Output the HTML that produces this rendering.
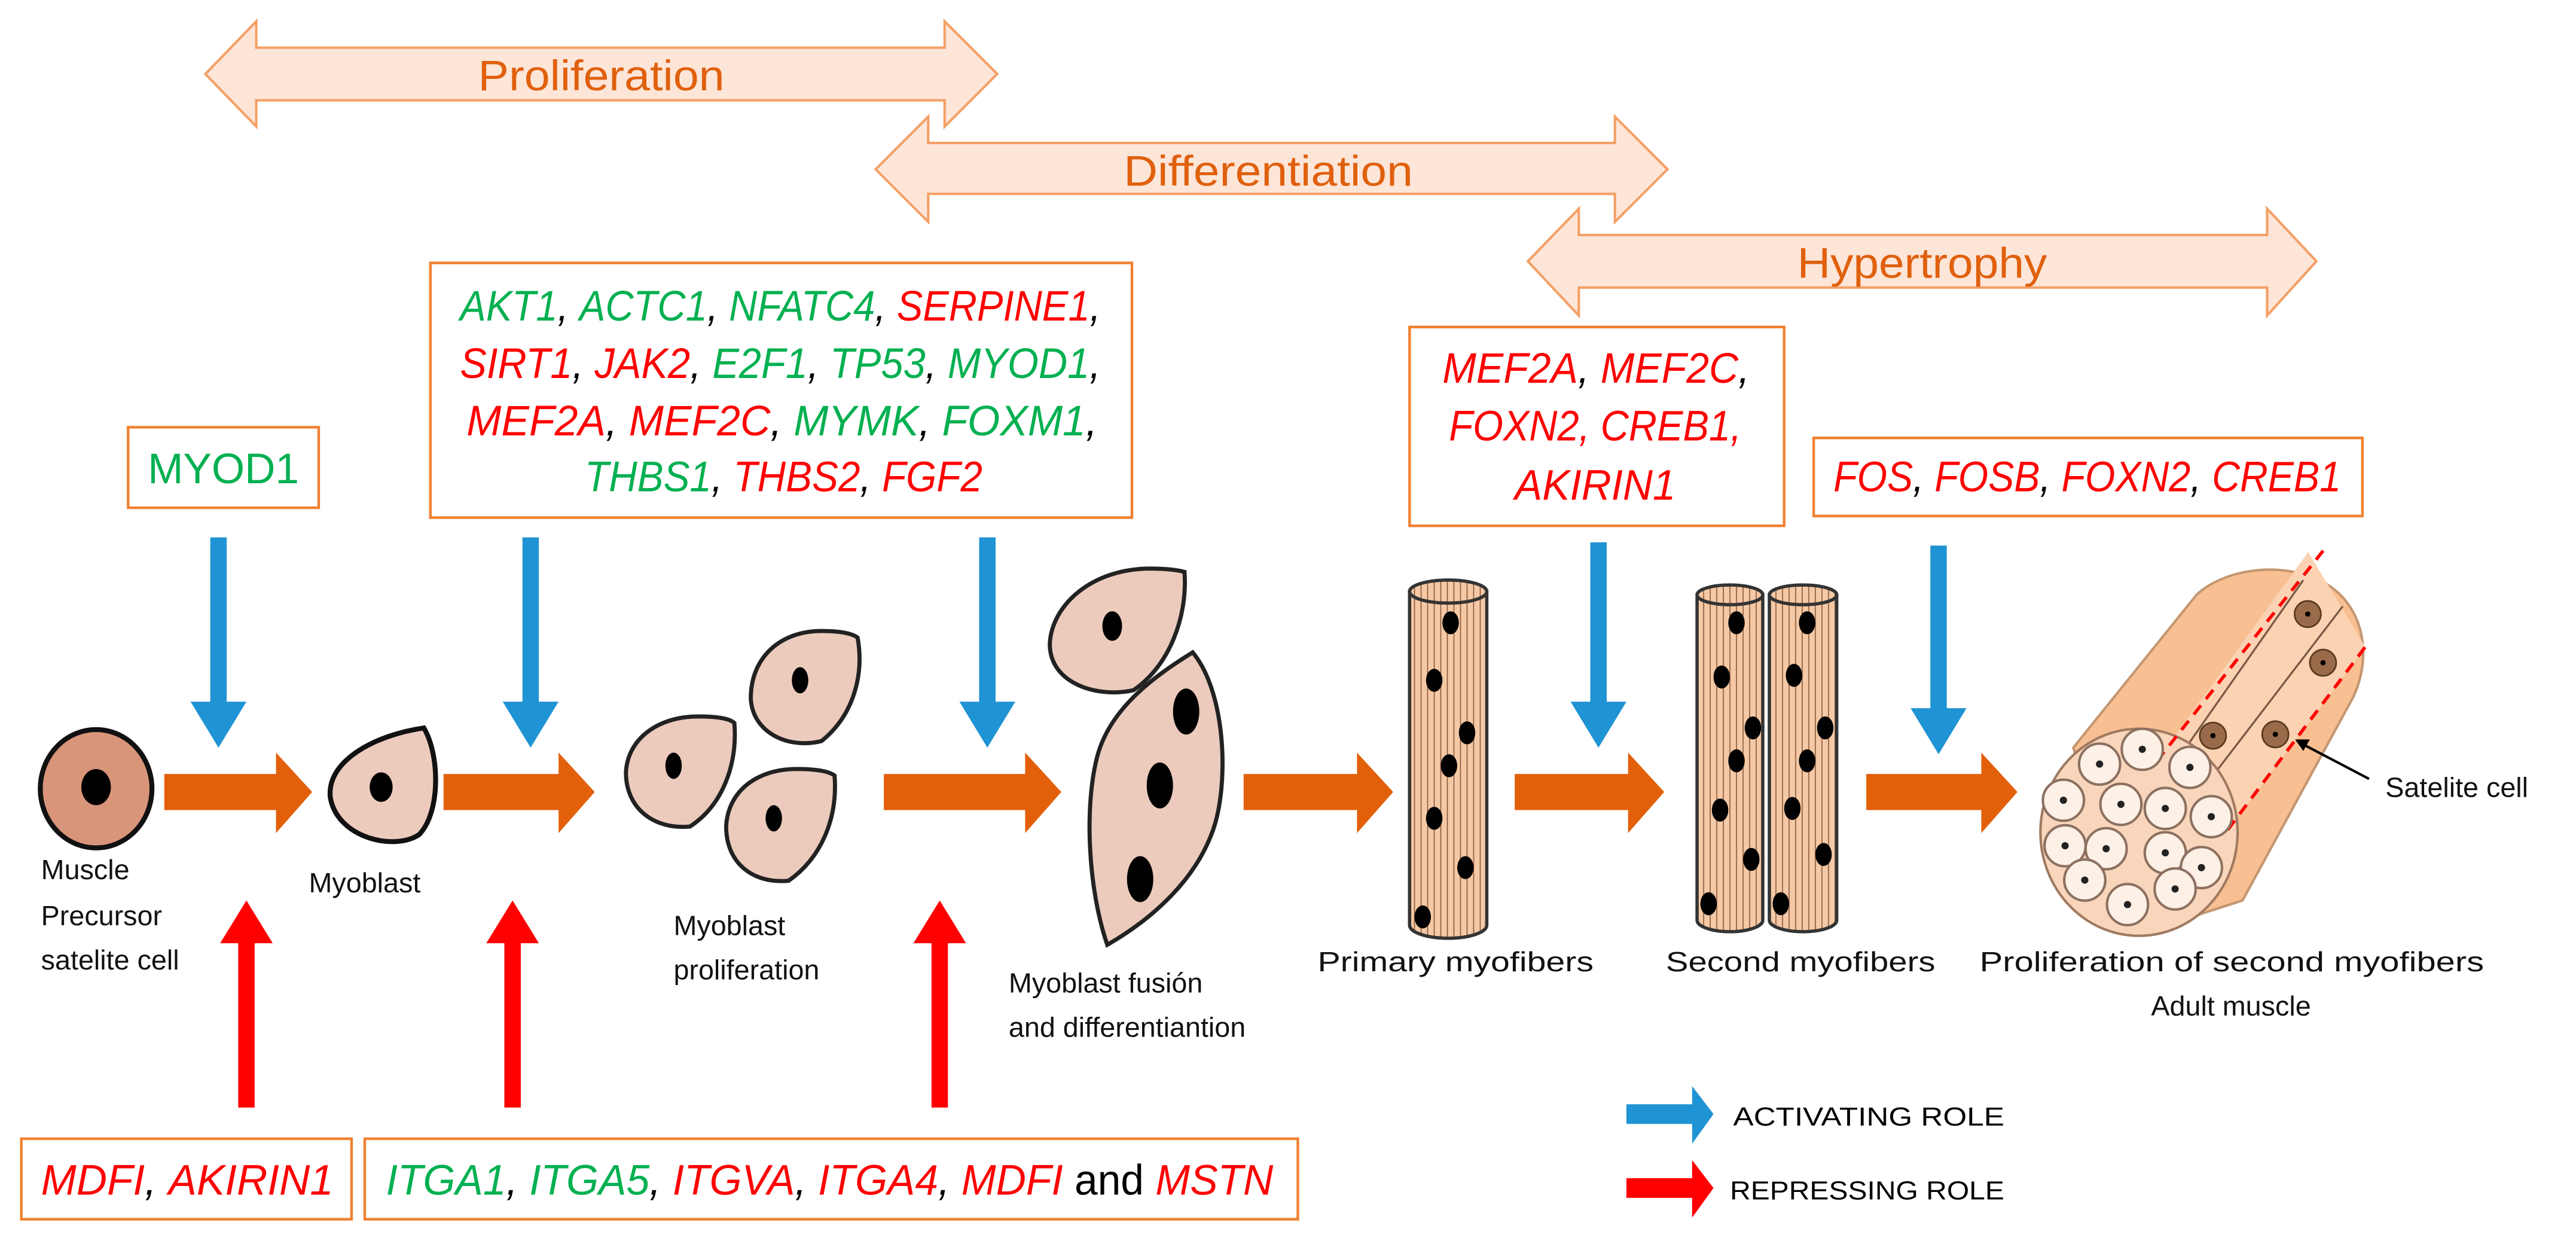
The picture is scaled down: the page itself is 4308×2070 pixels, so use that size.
<!DOCTYPE html>
<html><head><meta charset="utf-8"><style>
html,body{margin:0;padding:0;background:#fff;}
svg{display:block;}
text{font-family:"Liberation Sans",sans-serif;}
.g{fill:#00b050}.r{fill:#ff0000}.k{fill:#000}
.gene{font-style:italic;font-size:26px;}
.lab{font-size:17px;fill:#111;}
.ttl{font-size:26px;fill:#e0600c;}
</style></head><body>
<svg width="4308" height="2070" viewBox="0 0 1568 753.4" xmlns="http://www.w3.org/2000/svg">
<rect width="1568" height="753.4" fill="#fff"/>
<g fill="#fde5d8" stroke="#f4a066" stroke-width="1.5">
<path d="M125,45 L156,13 L156,29 L575,29 L575,13 L607,45 L575,77 L575,61 L156,61 L156,77 Z"/>
<path d="M533,103 L565,71 L565,87 L983,87 L983,71 L1015,103 L983,135 L983,118 L565,118 L565,135 Z"/>
<path d="M930,159 L961,127 L961,143 L1380,143 L1380,127 L1410,159 L1380,192 L1380,175 L961,175 L961,192 Z"/>
</g>
<text class="ttl" x="366" y="55" text-anchor="middle" textLength="150" lengthAdjust="spacingAndGlyphs">Proliferation</text>
<text class="ttl" x="772" y="113" text-anchor="middle" textLength="176" lengthAdjust="spacingAndGlyphs">Differentiation</text>
<text class="ttl" x="1170" y="169" text-anchor="middle" textLength="152" lengthAdjust="spacingAndGlyphs">Hypertrophy</text>
<g fill="#fff" stroke="#f08030" stroke-width="1.6">
<rect x="78" y="260" width="116" height="49"/>
<rect x="262" y="160" width="427" height="155"/>
<rect x="858" y="199" width="228" height="121"/>
<rect x="1104" y="266.5" width="334" height="47.5"/>
<rect x="13" y="693" width="201" height="49"/>
<rect x="222" y="693" width="568" height="49"/>
</g>
<text class="g" x="90" y="294" font-size="26" textLength="92" lengthAdjust="spacingAndGlyphs">MYOD1</text>
<text class="gene" x="280" y="195" textLength="390" lengthAdjust="spacingAndGlyphs"><tspan class="g">AKT1</tspan><tspan class="k">, </tspan><tspan class="g">ACTC1</tspan><tspan class="k">, </tspan><tspan class="g">NFATC4</tspan><tspan class="k">, </tspan><tspan class="r">SERPINE1</tspan><tspan class="k">,</tspan></text>
<text class="gene" x="280" y="230" textLength="390" lengthAdjust="spacingAndGlyphs"><tspan class="r">SIRT1</tspan><tspan class="k">, </tspan><tspan class="r">JAK2</tspan><tspan class="k">, </tspan><tspan class="g">E2F1</tspan><tspan class="k">, </tspan><tspan class="g">TP53</tspan><tspan class="k">, </tspan><tspan class="g">MYOD1</tspan><tspan class="k">,</tspan></text>
<text class="gene" x="284" y="265" textLength="384" lengthAdjust="spacingAndGlyphs"><tspan class="r">MEF2A</tspan><tspan class="k">, </tspan><tspan class="r">MEF2C</tspan><tspan class="k">, </tspan><tspan class="g">MYMK</tspan><tspan class="k">, </tspan><tspan class="g">FOXM1</tspan><tspan class="k">,</tspan></text>
<text class="gene" x="356" y="299" textLength="242" lengthAdjust="spacingAndGlyphs"><tspan class="g">THBS1</tspan><tspan class="k">, </tspan><tspan class="r">THBS2</tspan><tspan class="k">, </tspan><tspan class="r">FGF2</tspan></text>
<text class="gene" x="878" y="233" textLength="187" lengthAdjust="spacingAndGlyphs"><tspan class="r">MEF2A</tspan><tspan class="k">, </tspan><tspan class="r">MEF2C</tspan><tspan class="k">,</tspan></text>
<text class="gene r" x="882" y="268" textLength="178" lengthAdjust="spacingAndGlyphs">FOXN2, CREB1,</text>
<text class="gene r" x="922" y="304" textLength="98" lengthAdjust="spacingAndGlyphs">AKIRIN1</text>
<text class="gene" x="1116" y="299" textLength="309" lengthAdjust="spacingAndGlyphs"><tspan class="r">FOS</tspan><tspan class="k">, </tspan><tspan class="r">FOSB</tspan><tspan class="k">, </tspan><tspan class="r">FOXN2</tspan><tspan class="k">, </tspan><tspan class="r">CREB1</tspan></text>
<text class="gene" x="25" y="727" textLength="178" lengthAdjust="spacingAndGlyphs"><tspan class="r">MDFI</tspan><tspan class="k">, </tspan><tspan class="r">AKIRIN1</tspan></text>
<text class="gene" x="235" y="727" textLength="540" lengthAdjust="spacingAndGlyphs"><tspan class="g">ITGA1</tspan><tspan class="k">, </tspan><tspan class="g">ITGA5</tspan><tspan class="k">, </tspan><tspan class="r">ITGVA</tspan><tspan class="k">, </tspan><tspan class="r">ITGA4</tspan><tspan class="k">, </tspan><tspan class="r">MDFI</tspan><tspan class="k" font-style="normal"> and </tspan><tspan class="r">MSTN</tspan></text>
<g fill="#1f93d3">
<path d="M128,327 h10 v100 h12 l-17,28 l-17,-28 h12 z"/>
<path d="M318,327 h10 v100 h12 l-17,28 l-17,-28 h12 z"/>
<path d="M596,327 h10 v100 h12 l-17,28 l-17,-28 h12 z"/>
<path d="M968,330 h10 v97 h12 l-17,28 l-17,-28 h12 z"/>
<path d="M1175,332 h10 v99 h12 l-17,28 l-17,-28 h12 z"/>
</g>
<g fill="#ff0000">
<path d="M145,674 h10 v-100 h11 l-16,-26 l-16,26 h11 z"/>
<path d="M307,674 h10 v-100 h11 l-16,-26 l-16,26 h11 z"/>
<path d="M567,674 h10 v-100 h11 l-16,-26 l-16,26 h11 z"/>
</g>
<g fill="#e2600a">
<path d="M100,471 H168 V458 L190,482 L168,507 V493 H100 Z"/>
<path d="M270,471 H340 V458 L362,482 L340,507 V493 H270 Z"/>
<path d="M538,471 H624 V458 L646,482 L624,507 V493 H538 Z"/>
<path d="M757,471 H826 V458 L848,482 L826,507 V493 H757 Z"/>
<path d="M922,471 H991 V458 L1013,482 L991,507 V493 H922 Z"/>
<path d="M1136,471 H1206 V458 L1228,482 L1206,507 V493 H1136 Z"/>
</g>
<ellipse cx="58.5" cy="480" rx="34" ry="36" fill="#d9957a" stroke="#111" stroke-width="3"/>
<ellipse cx="58.5" cy="479" rx="9" ry="11" fill="#000"/>
<path d="M258,443 C268,460 268,495 255,508 C240,518 205,510 201,485 C199,462 230,447 258,443 Z" fill="#eccbbd" stroke="#111" stroke-width="3"/>
<ellipse cx="232" cy="479" rx="7" ry="9" fill="#000"/>
<g fill="#eccbbd" stroke="#222" stroke-width="2.5">
<path d="M522,388 C526,410 520,435 500,451 C480,456 458,446 457,425 C457,400 475,384 500,384 C510,384 518,385 522,388 Z"/>
<path d="M447,440 C449,465 440,490 420,503 C398,505 381,492 381,470 C382,450 400,436 425,436 C435,436 444,437 447,440 Z"/>
<path d="M508,472 C510,498 500,522 480,536 C458,538 442,525 442,503 C443,482 460,468 485,468 C495,468 504,469 508,472 Z"/>
<path d="M721,348 C723,375 712,405 690,420 C668,425 639,416 639,392 C640,368 665,346 700,346 C710,346 717,347 721,348 Z"/>
<path d="M726,397 C745,420 748,470 740,500 C730,535 700,560 674,575 C662,540 660,490 668,460 C676,430 705,410 726,397 Z"/>
</g>
<g fill="#000">
<ellipse cx="487" cy="414" rx="5" ry="8"/><ellipse cx="410" cy="466" rx="5" ry="8"/><ellipse cx="471" cy="498" rx="5" ry="8"/>
<ellipse cx="677" cy="381" rx="6" ry="9"/><ellipse cx="722" cy="433" rx="8" ry="14"/><ellipse cx="706" cy="478" rx="8" ry="14"/><ellipse cx="694" cy="535" rx="8" ry="14"/>
</g>
<defs>
<pattern id="st" width="4" height="10" patternUnits="userSpaceOnUse"><rect width="4" height="10" fill="#f5c9a5"/><line x1="1" y1="0" x2="1" y2="10" stroke="#8a5a3c" stroke-width="0.6"/></pattern>
</defs>
<g stroke="#333" stroke-width="2" fill="url(#st)">
<path d="M858,360 V563 A23.5,8 0 0 0 905,563 V360 Z"/>
<ellipse cx="881.5" cy="360" rx="23.5" ry="7"/>
<path d="M1033,362 V560 A20,7 0 0 0 1073,560 V362 Z"/>
<ellipse cx="1053" cy="362" rx="20" ry="6"/>
<path d="M1077,362 V560 A20.5,7 0 0 0 1118,560 V362 Z"/>
<ellipse cx="1097.5" cy="362" rx="20.5" ry="6"/>
</g>
<g fill="#000">
<ellipse cx="883" cy="379" rx="5" ry="7"/><ellipse cx="873" cy="414" rx="5" ry="7"/><ellipse cx="893" cy="446" rx="5" ry="7"/><ellipse cx="882" cy="466" rx="5" ry="7"/><ellipse cx="873" cy="498" rx="5" ry="7"/><ellipse cx="892" cy="528" rx="5" ry="7"/><ellipse cx="866" cy="558" rx="5" ry="7"/>
<ellipse cx="1057" cy="379" rx="5" ry="7"/><ellipse cx="1048" cy="412" rx="5" ry="7"/><ellipse cx="1067" cy="443" rx="5" ry="7"/><ellipse cx="1057" cy="463" rx="5" ry="7"/><ellipse cx="1047" cy="493" rx="5" ry="7"/><ellipse cx="1066" cy="523" rx="5" ry="7"/><ellipse cx="1040" cy="550" rx="5" ry="7"/>
<ellipse cx="1100" cy="379" rx="5" ry="7"/><ellipse cx="1092" cy="411" rx="5" ry="7"/><ellipse cx="1111" cy="443" rx="5" ry="7"/><ellipse cx="1100" cy="463" rx="5" ry="7"/><ellipse cx="1091" cy="492" rx="5" ry="7"/><ellipse cx="1110" cy="520" rx="5" ry="7"/><ellipse cx="1084" cy="550" rx="5" ry="7"/>
</g>
<!-- adult muscle -->
<path d="M1262,455 L1337,362 C1355,345 1395,340 1420,358 C1442,375 1442,405 1432,425 L1365,548 L1300,569 Z" fill="#f7bf92" stroke="#c49670" stroke-width="1.5"/>
<path d="M1313,463 L1405,336 L1440,394 L1356,505 Z" fill="#fbd3b3"/>
<path d="M1327,460 L1402,353 M1344,476 L1426,369" stroke="#7a5a45" stroke-width="1.2" fill="none"/>
<ellipse cx="1302" cy="506.5" rx="60" ry="63" fill="#f9d6bb" stroke="#a07a60" stroke-width="1.5"/>
<g fill="#9a6b4a" stroke="#5a3a20" stroke-width="1">
<circle cx="1404.7" cy="373.7" r="8"/><circle cx="1414" cy="403.3" r="8"/><circle cx="1347" cy="447.7" r="8"/><circle cx="1385" cy="446.9" r="8"/>
</g>
<g fill="#000"><circle cx="1404.7" cy="373.7" r="1.6"/><circle cx="1414" cy="403.3" r="1.6"/><circle cx="1347" cy="447.7" r="1.6"/><circle cx="1385" cy="446.9" r="1.6"/></g>
<g stroke="#ff0000" stroke-width="2" stroke-dasharray="7,5" fill="none">
<line x1="1313" y1="463" x2="1415" y2="334"/>
<line x1="1356" y1="505" x2="1441" y2="392"/>
</g>
<g fill="#fdf0e6" stroke="#8c7060" stroke-width="1.5">
<circle cx="1278" cy="465" r="12.5"/><circle cx="1304" cy="456" r="12.5"/><circle cx="1333" cy="467" r="12.5"/><circle cx="1256" cy="487" r="12.5"/><circle cx="1291" cy="489.5" r="12.5"/><circle cx="1318" cy="492" r="12.5"/><circle cx="1346" cy="497" r="12.5"/><circle cx="1257" cy="514.7" r="12.5"/><circle cx="1282" cy="516.5" r="12.5"/><circle cx="1318" cy="519" r="12.5"/><circle cx="1340" cy="528" r="12.5"/><circle cx="1269" cy="535.6" r="12.5"/><circle cx="1295" cy="550.5" r="12.5"/><circle cx="1324" cy="541" r="12.5"/>
</g>
<g fill="#222">
<circle cx="1278" cy="465" r="2.2"/><circle cx="1304" cy="456" r="2.2"/><circle cx="1333" cy="467" r="2.2"/><circle cx="1256" cy="487" r="2.2"/><circle cx="1291" cy="489.5" r="2.2"/><circle cx="1318" cy="492" r="2.2"/><circle cx="1346" cy="497" r="2.2"/><circle cx="1257" cy="514.7" r="2.2"/><circle cx="1282" cy="516.5" r="2.2"/><circle cx="1318" cy="519" r="2.2"/><circle cx="1340" cy="528" r="2.2"/><circle cx="1269" cy="535.6" r="2.2"/><circle cx="1295" cy="550.5" r="2.2"/><circle cx="1324" cy="541" r="2.2"/>
</g>
<line x1="1400" y1="452" x2="1442" y2="474" stroke="#000" stroke-width="1.5"/>
<path d="M1397,450 l9,0 l-4,7 z" fill="#000"/>
<text class="lab" x="1452" y="485">Satelite cell</text>
<text class="lab" x="25" y="535">Muscle</text>
<text class="lab" x="25" y="563">Precursor</text>
<text class="lab" x="25" y="590">satelite cell</text>
<text class="lab" x="188" y="543">Myoblast</text>
<text class="lab" x="410" y="569">Myoblast</text>
<text class="lab" x="410" y="596">proliferation</text>
<text class="lab" x="614" y="604">Myoblast fusión</text>
<text class="lab" x="614" y="631">and differentiantion</text>
<text class="lab" x="802" y="591" textLength="168" lengthAdjust="spacingAndGlyphs">Primary myofibers</text>
<text class="lab" x="1014" y="591" textLength="164" lengthAdjust="spacingAndGlyphs">Second myofibers</text>
<text class="lab" x="1205" y="591" textLength="307" lengthAdjust="spacingAndGlyphs">Proliferation of second myofibers</text>
<text class="lab" x="1358" y="618" text-anchor="middle">Adult muscle</text>
<path d="M990,672 H1030 V661 L1043,678 L1030,696 V684 H990 Z" fill="#1f93d3"/>
<text x="1055" y="685" font-size="16" textLength="165" lengthAdjust="spacingAndGlyphs">ACTIVATING ROLE</text>
<path d="M990,717 H1030 V706 L1043,723 L1030,741 V729 H990 Z" fill="#ff0000"/>
<text x="1053" y="730" font-size="16" textLength="167" lengthAdjust="spacingAndGlyphs">REPRESSING ROLE</text>
</svg>
</body></html>
